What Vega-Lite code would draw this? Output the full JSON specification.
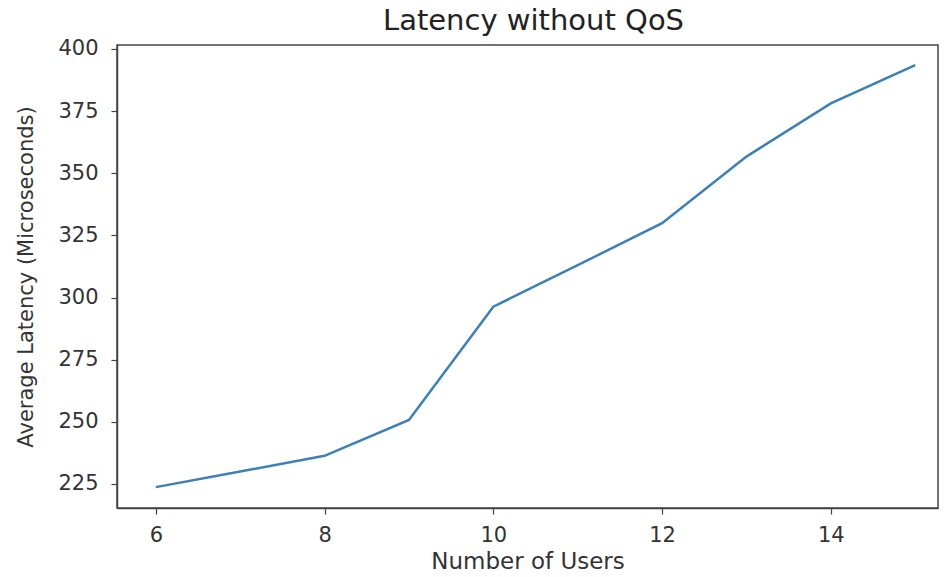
{
  "$schema": "https://vega.github.io/schema/vega-lite/v6.json",
  "autosize": "none",
  "width": 821,
  "height": 463,
  "padding": {"left": 117, "top": 45, "right": 7, "bottom": 69},
  "background": "white",
  "config": {
    "font": "DejaVu Sans",
    "view": {"stroke": "#444", "strokeWidth": 1.5},
    "axis": {
      "grid": false,
      "domainColor": "#444",
      "domainWidth": 1.5,
      "tickColor": "#444",
      "tickSize": 6,
      "tickWidth": 1.2,
      "labelFont": "DejaVu Sans",
      "labelFontSize": 21,
      "labelColor": "#333",
      "titleFont": "DejaVu Sans",
      "titleFontWeight": "normal",
      "titleColor": "#333"
    }
  },
  "title": {
    "text": "Latency without QoS",
    "fontSize": 29,
    "fontWeight": "normal",
    "font": "DejaVu Sans",
    "color": "#222",
    "anchor": "middle",
    "offset": 2,
    "dx": 6
  },
  "data": {
    "values": [
      {"users": 6, "latency": 223.7},
      {"users": 7, "latency": 230.0},
      {"users": 8, "latency": 236.3},
      {"users": 9, "latency": 250.7},
      {"users": 10, "latency": 296.3},
      {"users": 11, "latency": 313.0},
      {"users": 12, "latency": 329.9},
      {"users": 13, "latency": 356.7},
      {"users": 14, "latency": 378.1},
      {"users": 15, "latency": 393.5}
    ]
  },
  "mark": {"type": "line", "color": "#3d80b5", "strokeWidth": 2.5},
  "encoding": {
    "x": {
      "field": "users",
      "type": "quantitative",
      "title": "Number of Users",
      "scale": {"domain": [5.54, 15.27], "nice": false, "zero": false},
      "axis": {"values": [6, 8, 10, 12, 14], "labelPadding": 10, "titleFontSize": 23, "titlePadding": 5}
    },
    "y": {
      "field": "latency",
      "type": "quantitative",
      "title": "Average Latency (Microseconds)",
      "scale": {"domain": [215.3, 401.6], "nice": false, "zero": false},
      "axis": {"values": [225, 250, 275, 300, 325, 350, 375, 400], "labelPadding": 13, "titleFontSize": 21, "titlePadding": 21}
    }
  }
}
